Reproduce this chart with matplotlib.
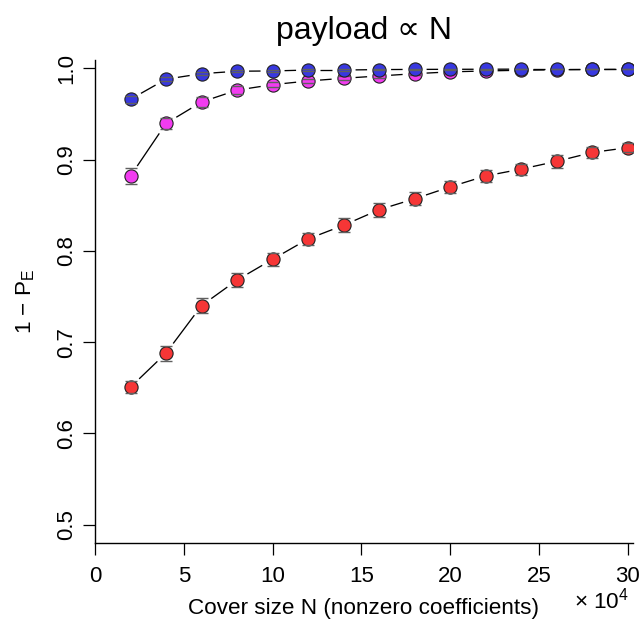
import matplotlib
matplotlib.use("Agg")
import matplotlib.pyplot as plt
import numpy as np

plt.rcParams['font.family'] = ['Liberation Sans', 'DejaVu Sans']

# cover size N (x 10^4)
N = [2, 4, 6, 8, 10, 12, 14, 16, 18, 20, 22, 24, 26, 28, 30]

blue = [0.966, 0.988, 0.994, 0.9967, 0.997, 0.998, 0.998, 0.9985, 0.9987,
        0.9988, 0.9989, 0.999, 0.999, 0.999, 0.999]
blue_err = [0.004, 0.002, 0.0015, 0.001, 0.0008, 0.0007, 0.0006, 0.0005,
            0.0005, 0.0004, 0.0004, 0.0003, 0.0003, 0.0003, 0.0003]

pink = [0.882, 0.9395, 0.963, 0.976, 0.982, 0.986, 0.989, 0.9915, 0.994,
        0.996, 0.997, 0.9978, 0.9983, 0.9986, 0.9988]
pink_err = [0.0092, 0.006, 0.005, 0.004, 0.003, 0.0025, 0.002, 0.0018,
            0.0015, 0.0012, 0.001, 0.001, 0.0008, 0.0007, 0.0006]

red = [0.6507, 0.688, 0.740, 0.768, 0.7907, 0.813, 0.828, 0.845, 0.857,
       0.870, 0.882, 0.8895, 0.898, 0.9077, 0.913]
red_err = [0.0065, 0.0082, 0.0078, 0.0072, 0.0068, 0.007, 0.0078, 0.0078,
           0.0072, 0.007, 0.0065, 0.006, 0.0072, 0.0062, 0.005]

fig = plt.figure(figsize=(6.39, 6.23), dpi=100)
ax = fig.add_axes([95 / 639, 1 - 543 / 623, 538 / 639, 483 / 623])
ax.set_xlim(0, 30.3)
ax.set_ylim(0.48, 1.009)


def gapped_line(x, y, gap=12):
    # R style type="b": line segments stopping short of the points
    pts = ax.transData.transform(np.column_stack([x, y]))
    inv = ax.transData.inverted()
    for p0, p1 in zip(pts[:-1], pts[1:]):
        d = p1 - p0
        L = np.hypot(*d)
        if L <= 2 * gap:
            continue
        u = d / L
        a = inv.transform(p0 + u * gap)
        b = inv.transform(p1 - u * gap)
        ax.plot([a[0], b[0]], [a[1], b[1]], color='black', lw=0.95,
                solid_capstyle='butt', zorder=2)


series = [(red, red_err, '#f63636'),
          (pink, pink_err, '#f23cf0'),
          (blue, blue_err, '#3838e0')]

for vals, err, col in series:
    gapped_line(N, vals)

for i, (vals, err, col) in enumerate(series):
    ax.plot(N, vals, 'o', ms=9.5, mfc=col, mec='#202020', mew=0.8,
            zorder=3 + i * 2)
    ax.errorbar(N, vals, yerr=err, fmt='none', ecolor='#606060',
                elinewidth=0, capsize=4.3, capthick=1.0, zorder=4 + i * 2)

for s in ['top', 'right']:
    ax.spines[s].set_visible(False)
for s in ['left', 'bottom']:
    ax.spines[s].set_linewidth(1.0)

ax.set_xticks([0, 5, 10, 15, 20, 25, 30])
ax.set_yticks([0.5, 0.6, 0.7, 0.8, 0.9, 1.0])
ax.set_yticklabels(['0.5', '0.6', '0.7', '0.8', '0.9', '1.0'],
                   rotation=90, va='center')
ax.tick_params(axis='both', length=8.8, width=0.9, labelsize=16,
               direction='out')
ax.tick_params(axis='y', pad=4)
ax.tick_params(axis='x', pad=8)

ax.set_title('payload \u221d N', fontsize=23, pad=15)
ax.set_xlabel('Cover size N (nonzero coefficients)', fontsize=16.2,
              labelpad=8)
ax.set_ylabel('1 \u2212 P$_\\mathregular{E}$', fontsize=16.2, labelpad=14)
fig.text(629 / 639, 1 - 608 / 623, '\u00d7 10$^\\mathregular{4}$',
         fontsize=16.2, ha='right', va='baseline')

fig.savefig('out.png', dpi=100, facecolor='white')
